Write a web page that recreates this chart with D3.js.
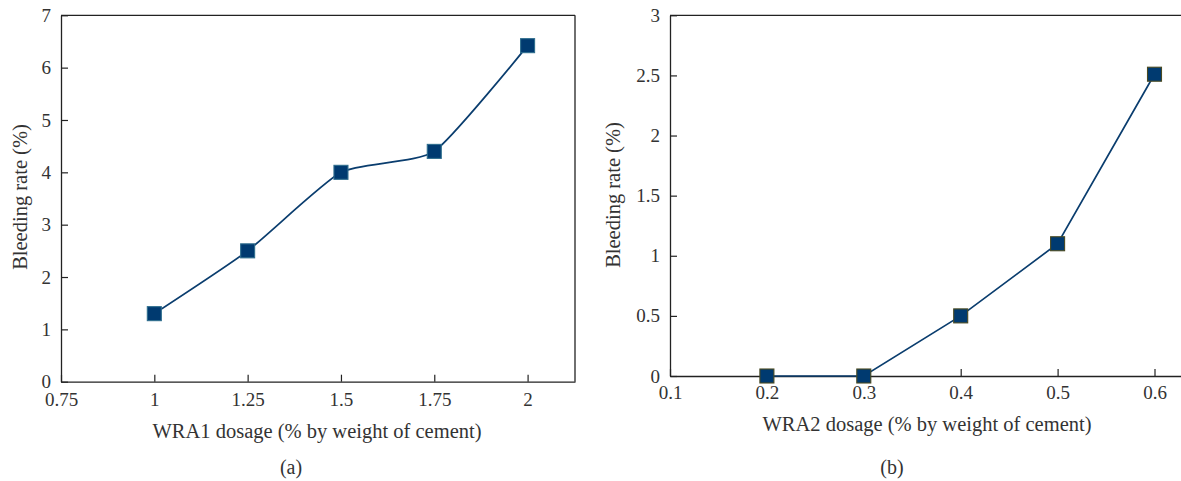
<!DOCTYPE html>
<html>
<head>
<meta charset="utf-8">
<script src="https://cdn.jsdelivr.net/npm/d3@7"></script>
<style>
	body { margin: 0; background: #fff; }
	svg text { font-family: "Liberation Serif", "DejaVu Serif", serif; fill: #333; }
</style>
</head>
<body>
<div id="chart"></div>
<script>
// panel (a): WRA1
const wra1Dosage = [1, 1.25, 1.5, 1.75, 2];
const wra1Bleeding = [1.3, 2.5, 4.0, 4.4, 6.42];
const wra1XTicks = [0.75, 1, 1.25, 1.5, 1.75, 2];
const wra1YTicks = [0, 1, 2, 3, 4, 5, 6, 7];

// panel (b): WRA2
const wra2Dosage = [0.2, 0.3, 0.4, 0.5, 0.6];
const wra2Bleeding = [0, 0, 0.5, 1.1, 2.51];
const wra2XTicks = [0.1, 0.2, 0.3, 0.4, 0.5, 0.6];
const wra2YTicks = [0, 0.5, 1, 1.5, 2, 2.5, 3];

const W = 1181, H = 481;

const svg = d3
	.select("#chart")
	.append("svg")
	.attr("width", W)
	.attr("height", H);

function drawPanel(opt) {
	const x = d3.scaleLinear().domain(opt.xDomain).range(opt.xRange);
	const y = d3.scaleLinear().domain(opt.yDomain).range(opt.yRange);
	const g = svg.append("g");

	// box lines (top + optional right)
	g.append("line")
		.attr("x1", opt.xRange[0]).attr("x2", opt.xRange[1])
		.attr("y1", opt.yRange[1]).attr("y2", opt.yRange[1])
		.attr("stroke", "#222").attr("stroke-width", 1.3);
	if (opt.rightBorder) {
		g.append("line")
			.attr("x1", opt.xRange[1]).attr("x2", opt.xRange[1])
			.attr("y1", opt.yRange[1]).attr("y2", opt.yRange[0])
			.attr("stroke", "#222").attr("stroke-width", 1.3);
	}

	// X axis, ticks pointing inward
	const xAxis = g.append("g")
		.attr("transform", `translate(0,${opt.yRange[0]})`)
		.call(d3.axisBottom(x).tickValues(opt.xTicks).tickFormat(d3.format("~g"))
			.tickSizeInner(-7).tickSizeOuter(0).tickPadding(opt.xPad));
	// Y axis
	const yAxis = g.append("g")
		.attr("transform", `translate(${opt.xRange[0]},0)`)
		.call(d3.axisLeft(y).tickValues(opt.yTicks).tickFormat(d3.format("~g"))
			.tickSizeInner(-7).tickSizeOuter(0).tickPadding(10));

	[xAxis, yAxis].forEach((a) => {
		a.attr("font-family", null);
		a.select(".domain").attr("stroke", "#222").attr("stroke-width", 1.3);
		a.selectAll(".tick line").attr("stroke", "#222").attr("stroke-width", 1.2);
		a.selectAll("text")
			.attr("fill", "#333")
			.style("font-size", "19px")
			.style("font-family", '"Liberation Serif", "DejaVu Serif", serif');
	});

	// the line
	const pts = opt.xs.map((d, i) => [d, opt.ys[i]]);
	g.append("path")
		.datum(pts)
		.attr("fill", "none")
		.attr("stroke", "#0a3d6e")
		.attr("stroke-width", 1.7)
		.attr("d", d3.line().x((d) => x(d[0])).y((d) => y(d[1])).curve(opt.curve));

	// square markers
	g.selectAll(".mk")
		.data(pts)
		.join("rect")
		.attr("x", (d) => x(d[0]) - 7)
		.attr("y", (d) => y(d[1]) - 7)
		.attr("width", 14)
		.attr("height", 14)
		.attr("fill", "#003a70")
		.attr("stroke", opt.markerStroke)
		.attr("stroke-width", 1.1);

	// axis titles
	g.append("text")
		.attr("x", opt.xTitlePos[0])
		.attr("y", opt.xTitlePos[1])
		.attr("text-anchor", "middle")
		.style("font-size", "20.5px")
		.text(opt.xTitle);
	g.append("text")
		.attr("transform", `translate(${opt.yTitlePos[0]},${opt.yTitlePos[1]}) rotate(-90)`)
		.attr("text-anchor", "middle")
		.attr("dy", "0.35em")
		.style("font-size", "20.5px")
		.text("Bleeding rate (%)");
	g.append("text")
		.attr("x", opt.labelPos[0])
		.attr("y", opt.labelPos[1])
		.attr("text-anchor", "middle")
		.style("font-size", "20px")
		.text(opt.label);
}

drawPanel({
	xs: wra1Dosage, ys: wra1Bleeding,
	xTicks: wra1XTicks, yTicks: wra1YTicks,
	xDomain: [0.75, 2.127], xRange: [61, 575],
	yDomain: [0, 7], yRange: [381.7, 15.3],
	xPad: 11, rightBorder: true,
	curve: d3.curveCardinal.tension(0.45),
	markerStroke: "#2f6e8e",
	xTitle: "WRA1 dosage (% by weight of cement)",
	xTitlePos: [317, 438],
	yTitlePos: [20, 197],
	label: "(a)", labelPos: [291, 474]
});

drawPanel({
	xs: wra2Dosage, ys: wra2Bleeding,
	xTicks: wra2XTicks, yTicks: wra2YTicks,
	xDomain: [0.1, 0.63], xRange: [670, 670 + 0.53 * 969],
	yDomain: [0, 3], yRange: [376, 15.3],
	xPad: 10, rightBorder: false,
	curve: d3.curveLinear,
	markerStroke: "#4a4a22",
	xTitle: "WRA2 dosage (% by weight of cement)",
	xTitlePos: [927, 431],
	yTitlePos: [613, 195],
	label: "(b)", labelPos: [892, 474]
});
</script>
</body>
</html>
